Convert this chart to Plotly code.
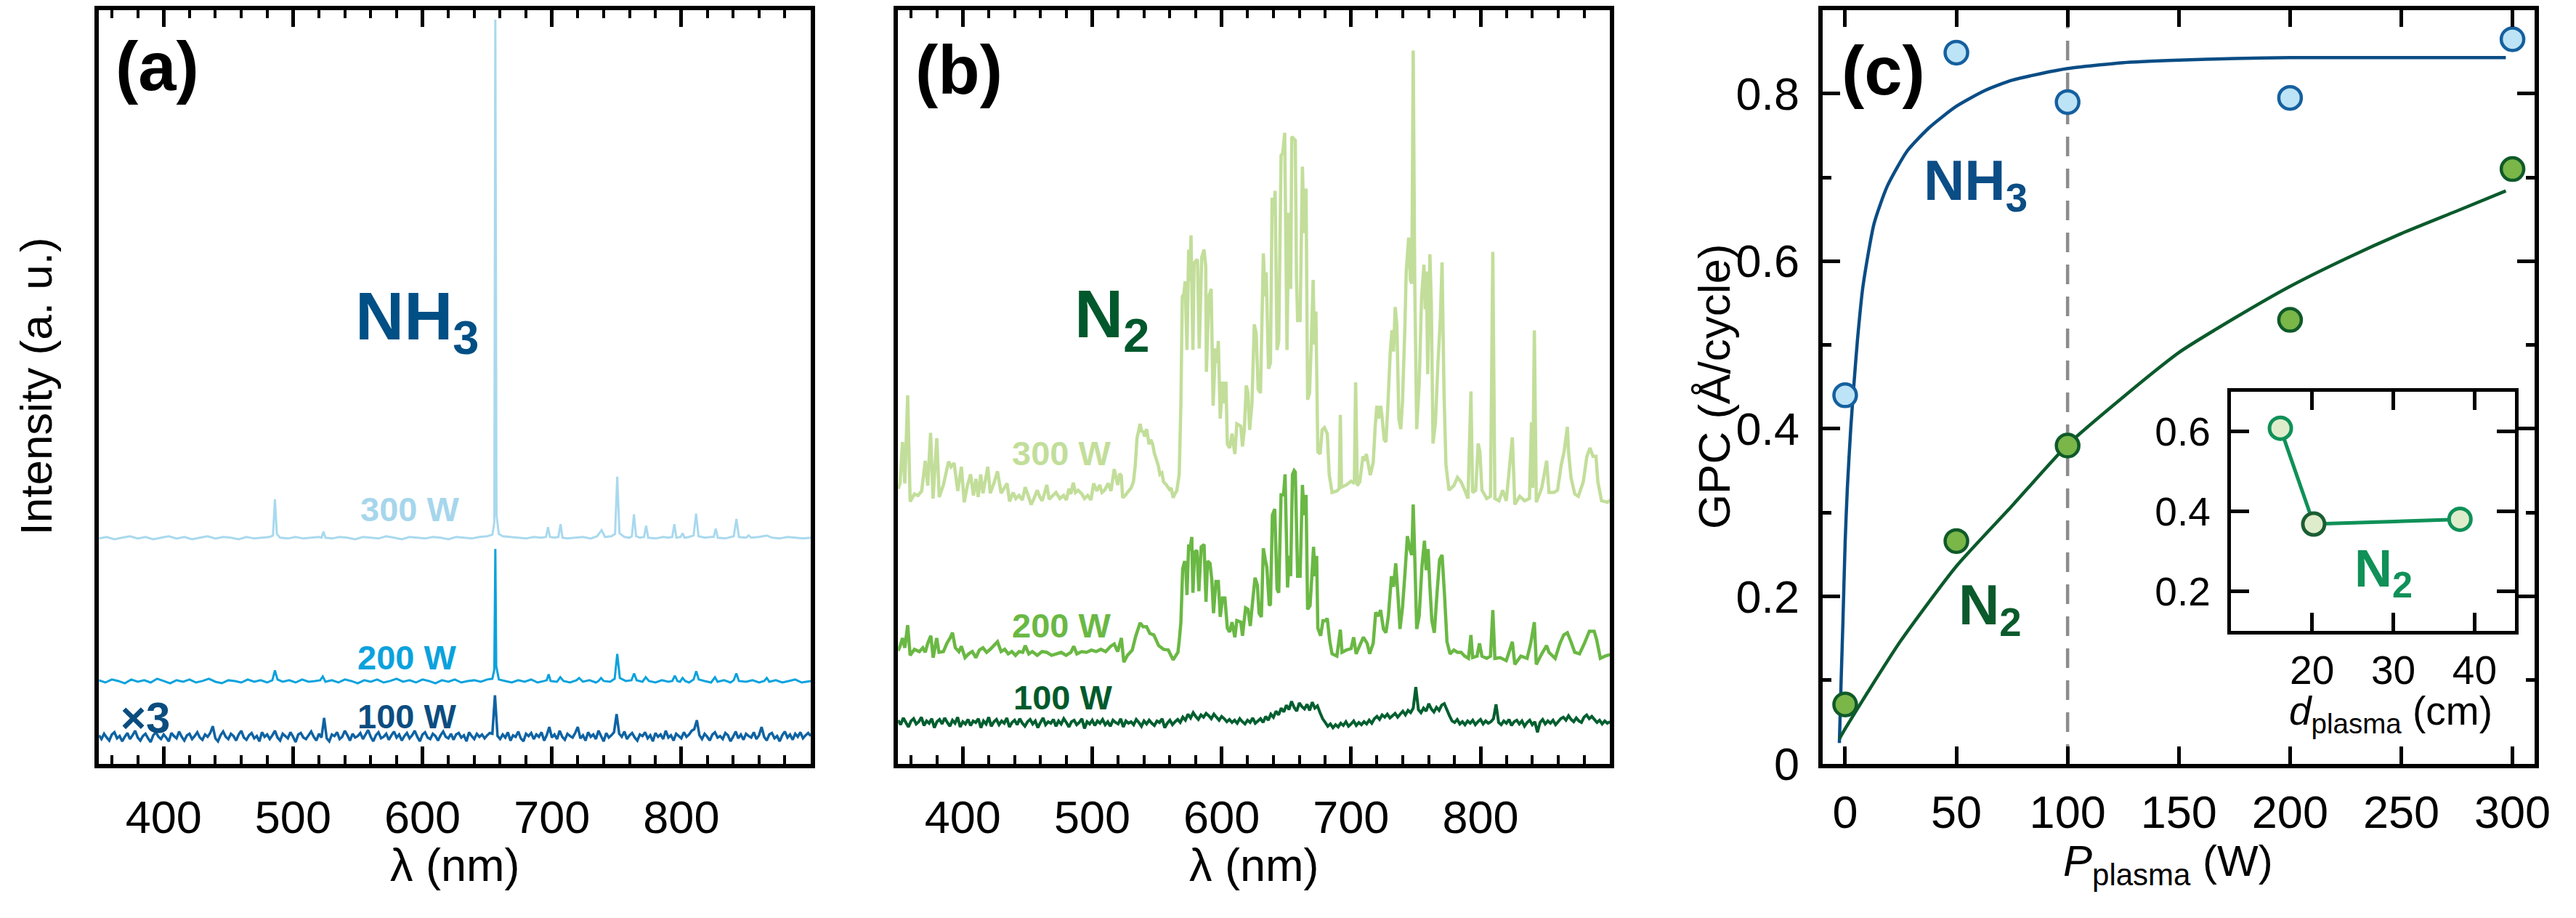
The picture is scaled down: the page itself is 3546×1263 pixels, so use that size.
import plotly.graph_objects as go

W, H = 3546, 1263
FONT = "Liberation Sans, Arial, Helvetica, sans-serif"

# ---------------------------------------------------------------------------
# (a) NH3 plasma optical emission, stacked traces (a.u., 0-1000 frame scale)
# ---------------------------------------------------------------------------
WL_GRID = list(range(350, 901, 2))  # spectrometer sampling grid (nm)

nh3_300w = [
    (350, 299), (356, 301), (362, 298), (368, 300), (374, 302), (380, 299), (386, 301), (392, 298),
    (398, 300), (404, 302), (410, 299), (416, 301), (422, 298), (428, 300), (434, 302), (440, 299),
    (446, 301), (452, 300), (458, 298), (464, 301), (470, 299), (476, 300), (482, 301), (484.5, 303),
    (486, 351), (487.5, 305), (490, 300), (496, 299), (502, 301), (508, 299), (514, 300), (520, 301),
    (522, 300), (523.5, 308), (525, 300), (530, 299), (536, 301), (542, 300), (548, 298), (554, 301),
    (560, 300), (566, 299), (572, 302), (578, 300), (584, 298), (590, 301), (596, 300), (602, 299),
    (608, 301), (614, 300), (620, 298), (626, 301), (632, 300), (638, 299), (644, 301), (650, 302),
    (654, 304), (655.5, 320), (656.3, 987), (657.2, 330), (659, 305), (662, 302), (668, 301), (674, 300),
    (680, 299), (686, 301), (692, 300), (695.5, 301), (697, 314), (698.5, 301), (702, 300), (705, 301),
    (706.7, 318), (708.2, 300), (712, 299), (718, 300), (724, 301), (730, 299), (735, 302), (738.4, 310),
    (741, 301), (746, 302), (748.8, 305), (750.5, 381), (752.2, 306), (756, 301), (760, 300), (761.8, 302),
    (763.4, 331), (765, 302), (768, 300), (771.2, 301), (772.8, 316), (774.4, 300), (780, 299), (786, 301),
    (790, 300), (793, 301), (794.6, 318), (796.2, 300), (799.5, 301), (801, 306), (802.5, 300), (806, 301),
    (809.5, 303), (811.4, 332), (813.3, 302), (818, 300), (823, 301), (825, 301), (826.6, 312), (828.2, 300),
    (834, 299), (840.5, 302), (842.6, 325), (844.5, 301), (850, 300), (852, 303), (854, 300), (860, 301),
    (866, 303), (870, 300), (876, 299), (882, 301), (888, 300), (894, 299), (900, 300),
]

nh3_200w = [
    (350, 111), (355, 108), (360, 112), (365, 110), (370, 107), (375, 112), (380, 109), (385, 111),
    (390, 108), (395, 113), (400, 110), (405, 107), (410, 111), (415, 109), (420, 112), (425, 108),
    (430, 110), (435, 113), (440, 109), (445, 107), (450, 111), (455, 110), (460, 108), (465, 112),
    (470, 109), (475, 111), (480, 108), (484, 111), (486, 124), (488, 112), (492, 109), (497, 111),
    (502, 108), (507, 112), (512, 109), (517, 110), (521, 111), (523, 116), (525, 109), (530, 111),
    (535, 108), (540, 112), (545, 110), (550, 107), (555, 111), (560, 109), (565, 112), (570, 108),
    (575, 110), (580, 113), (585, 109), (590, 111), (595, 108), (600, 112), (605, 110), (610, 107),
    (615, 111), (620, 109), (625, 112), (630, 108), (635, 110), (640, 111), (645, 109), (650, 112),
    (654, 113), (655.5, 125), (656.3, 285), (657, 130), (659, 112), (664, 110), (669, 108), (674, 111),
    (679, 109), (684, 112), (689, 108), (694, 110), (696, 111), (697.5, 119), (699, 110), (704, 109),
    (706.5, 115), (709, 110), (714, 108), (719, 111), (721, 114), (724, 109), (729, 111), (734, 108),
    (736, 110), (738, 114), (740, 110), (745, 109), (748.5, 113), (750.5, 146), (752.5, 114), (757, 110),
    (761.5, 111), (763.5, 120), (765.5, 111), (770, 109), (772.5, 115), (775, 110), (780, 108), (785, 111),
    (790, 109), (793, 110), (795, 117), (797, 110), (799, 109), (801, 114), (803, 110), (806, 108),
    (809.5, 112), (811.5, 123), (813.5, 112), (818, 110), (823, 108), (826, 115), (828, 109), (833, 111),
    (838, 108), (840.5, 111), (842.5, 120), (844.5, 110), (850, 109), (855, 111), (860, 108), (864, 110),
    (866, 114), (868, 109), (873, 111), (878, 108), (883, 110), (888, 112), (893, 108), (900, 110),
]

# 100 W trace, multiplied by 3, sampled on WL_GRID
nh3_100w_x3 = [
    38, 33, 40, 35, 31, 39, 42, 34, 37, 30,
    36, 41, 33, 38, 44, 35, 31, 37, 40, 34,
    29, 38, 42, 36, 33, 39, 35, 30, 41, 37,
    34, 43, 36, 31, 38, 40, 33, 37, 42, 35,
    32, 39, 36, 41, 50, 34, 30, 38, 43, 36,
    33, 40, 37, 31, 39, 44, 35, 32, 38, 41,
    34, 37, 30, 42, 36, 39, 33, 38, 44, 35,
    31, 40, 37, 34, 42, 36, 29, 39, 41, 35,
    33, 38, 43, 36, 31, 40, 35, 61, 34, 30,
    39, 37, 42, 33, 36, 44, 38, 31, 40, 35,
    37, 41, 33, 39, 45, 36, 30, 38, 42, 34,
    36, 40, 32, 38, 43, 35, 39, 31, 37, 41,
    34, 38, 44, 36, 30, 39, 42, 35, 33, 40,
    37, 31, 38, 43, 36, 34, 40, 32, 39, 41,
    35, 38, 30, 42, 37, 33, 40, 36, 39, 34,
    38, 41, 40, 91, 37, 33, 39, 35, 42, 31,
    38, 36, 43, 34, 30, 40, 37, 41, 33, 39,
    36, 42, 31, 38, 49, 35, 39, 33, 44, 36,
    32, 40, 37, 35, 41, 49, 34, 38, 31, 42,
    36, 39, 33, 44, 37, 30, 41, 35, 38, 42,
    66, 40, 36, 43, 33, 38, 41, 35, 31, 39,
    37, 42, 34, 38, 30, 41, 36, 39, 33, 44,
    35, 38, 31, 40, 37, 34, 42, 36, 39, 44,
    46, 58, 38, 33, 40, 36, 31, 39, 42, 35,
    37, 33, 41, 38, 30, 36, 43, 34, 39, 32,
    40, 37, 35, 42, 33, 38, 49, 36, 31, 39,
    41, 34, 37, 30, 38, 43, 35, 39, 32, 40,
    36, 42, 34, 38, 41, 37,
]

# ---------------------------------------------------------------------------
# (b) N2 plasma optical emission
# ---------------------------------------------------------------------------
n2_300w = [
    (350, 365), (351.5, 372), (353.4, 427), (355.2, 372), (357.4, 489), (359.3, 348), (362.6, 358),
    (365.4, 356), (368.2, 362), (371.0, 402), (372.9, 369), (375.1, 439), (377.0, 352), (379.9, 432),
    (381.8, 354), (385.0, 370), (389.0, 401), (390.9, 394), (393.3, 399), (396.1, 362), (398.9, 394),
    (401.1, 347), (403.5, 369), (406.0, 384), (408.2, 356), (410.1, 378), (411.9, 354), (413.8, 384),
    (415.6, 359), (419.3, 394), (421.2, 359), (424.0, 372), (426.8, 388), (429.6, 359), (432.0, 366),
    (434.2, 372), (436.1, 348), (438.9, 360), (441.0, 352), (443.5, 356), (446.0, 350), (448.2, 367),
    (450.5, 356), (452.8, 344), (455.0, 352), (457.5, 363), (459.5, 354), (461.2, 349), (463.0, 358),
    (464.9, 370), (466.7, 351), (469.0, 355), (472.0, 360), (475.0, 352), (477.9, 356), (480.0, 350),
    (482.0, 365), (483.5, 358), (485.3, 373), (487.0, 360), (489.1, 363), (492.0, 358), (494.0, 352),
    (496.5, 356), (499.0, 350), (501.1, 372), (503.5, 362), (505.8, 370), (507.5, 360), (509.5, 363),
    (512.3, 372), (514.5, 362), (517.0, 391), (519.7, 370), (521.2, 385), (522.5, 382), (523.5, 353),
    (525.5, 356), (528.1, 362), (530.0, 366), (531.8, 374), (533.2, 395), (534.6, 432), (537.0, 451),
    (538.2, 440), (539.3, 442), (540.5, 434), (542.0, 444), (543.9, 424), (545.2, 430), (546.7, 424),
    (548.0, 412), (549.5, 404), (551.0, 396), (552.3, 384), (553.8, 386), (555.1, 374), (557.3, 370),
    (559.7, 364), (561.0, 366), (562.5, 353), (564.4, 360), (565.3, 362), (567.2, 384), (568.5, 478),
    (569.6, 620), (570.8, 623), (571.8, 640), (573.2, 549), (574.5, 682), (575.4, 640), (576.3, 701),
    (577.8, 549), (578.7, 664), (580.0, 667), (581.3, 669), (582.7, 551), (584.6, 672), (586.4, 682),
    (587.7, 660), (588.2, 520), (590.1, 620), (591.9, 630), (593.4, 475), (595.2, 551), (596.5, 532),
    (597.4, 561), (598.9, 458), (600.7, 507), (602.0, 478), (603.3, 507), (604.4, 424), (606.2, 419),
    (608.0, 438), (610.2, 411), (611.7, 451), (614.8, 448), (616.1, 421), (617.5, 443), (619.0, 502),
    (620.3, 492), (621.6, 443), (623.4, 478), (625.2, 583), (626.7, 571), (628.2, 497), (630.0, 492),
    (632.2, 677), (633.7, 620), (634.4, 652), (636.2, 524), (637.7, 532), (639.0, 751), (640.4, 728),
    (641.3, 760), (642.8, 549), (644.1, 561), (645.9, 807), (647.2, 810), (648.7, 837), (650.5, 549),
    (651.8, 731), (653.3, 630), (654.2, 832), (655.6, 829), (656.9, 827), (657.8, 645), (658.7, 588),
    (660.6, 588), (662.4, 792), (663.7, 704), (665.2, 763), (666.4, 483), (667.9, 492), (669.2, 556),
    (670.7, 642), (671.6, 556), (672.8, 600), (674.3, 414), (676.1, 411), (677.6, 443), (679.4, 446),
    (681.6, 438), (683.1, 384), (685.3, 360), (689.0, 362), (690.8, 365), (691.7, 463), (692.6, 367),
    (696.3, 370), (700.0, 375), (702.5, 372), (703.5, 506), (704.8, 369), (706.7, 374), (709.2, 408),
    (710.5, 402), (711.8, 411), (713.3, 397), (714.8, 383), (717.1, 400), (718.6, 447), (719.9, 475),
    (721.2, 458), (722.8, 475), (723.7, 464), (725.6, 430), (726.9, 427), (728.4, 475), (730.3, 547),
    (731.6, 575), (732.8, 547), (734.1, 606), (735.4, 581), (736.9, 458), (738.4, 444), (739.7, 480),
    (741.6, 581), (742.6, 653), (744.5, 698), (745.8, 642), (746.9, 637), (748.0, 946), (749.2, 637),
    (750.7, 444), (752.6, 503), (754.5, 620), (756.3, 662), (757.3, 603), (758.2, 653), (759.2, 517),
    (760.9, 676), (762.0, 609), (763.3, 425), (765.2, 453), (767.1, 531), (769.0, 592), (770.3, 665),
    (771.8, 492), (773.3, 397), (775.6, 363), (779.4, 369), (782.2, 380), (785.0, 374), (787.8, 363),
    (790.3, 352), (792.6, 494), (793.9, 360), (796.3, 363), (798.2, 425), (799.5, 414), (801.1, 363),
    (804.8, 352), (807.7, 355), (809.5, 679), (811.1, 352), (814.3, 349), (817.1, 363), (819.9, 349),
    (824.6, 433), (826.5, 344), (830.3, 355), (834.1, 349), (837.8, 352), (839.4, 453), (840.3, 366),
    (841.6, 575), (843.1, 347), (847.3, 366), (851.1, 402), (852.9, 360), (856.7, 360), (859.5, 363),
    (862.4, 397), (864.6, 414), (867.1, 447), (868.0, 414), (869.9, 380), (872.8, 358), (875.6, 355),
    (879.4, 374), (882.2, 408), (884.6, 419), (886.9, 408), (889.2, 408), (890.7, 374), (893.5, 349),
    (898.2, 347), (900, 350),
]

n2_200w = [
    (350, 150), (351.5, 156), (353.4, 167), (355.2, 154), (357.4, 184), (359.3, 144), (362.6, 152),
    (366.4, 149), (369.1, 154), (371.0, 148), (372.9, 160), (375.3, 170), (377.1, 141), (379.8, 167),
    (381.6, 148), (385.0, 149), (387.7, 160), (390.2, 167), (392.0, 174), (394.2, 154), (397.0, 149),
    (398.9, 156), (401.7, 141), (404.5, 146), (407.3, 149), (410.1, 141), (412.8, 151), (415.6, 154),
    (418.4, 148), (421.2, 152), (424.0, 157), (426.8, 162), (429.6, 149), (432.4, 152), (435.1, 146),
    (437.9, 149), (440.7, 144), (443.5, 149), (446.3, 148), (448.2, 157), (451.0, 146), (453.7, 149),
    (457.5, 144), (461.2, 149), (464.9, 148), (468.6, 144), (472.3, 146), (476.0, 148), (479.8, 144),
    (483.5, 148), (485.7, 156), (488.1, 146), (491.8, 149), (495.6, 148), (499.3, 151), (503.0, 149),
    (506.7, 152), (510.4, 149), (514.2, 156), (517.0, 159), (519.7, 149), (522.5, 167), (524.4, 135),
    (527.2, 144), (530.9, 151), (533.7, 170), (537.0, 187), (539.3, 182), (542.0, 182), (544.5, 173),
    (547.6, 171), (551.3, 157), (555.1, 152), (558.8, 151), (562.5, 138), (566.2, 148), (567.2, 163),
    (568.5, 188), (569.9, 259), (571.4, 269), (572.3, 261), (573.2, 224), (574.5, 291), (575.4, 283),
    (576.9, 301), (577.8, 227), (579.1, 281), (580.9, 283), (582.4, 229), (584.2, 288), (586.4, 291),
    (587.9, 215), (589.1, 269), (591.0, 266), (592.4, 244), (593.7, 200), (595.6, 242), (597.4, 242),
    (598.9, 195), (600.7, 220), (602.5, 220), (604.4, 180), (606.2, 175), (608.0, 188), (610.2, 168),
    (611.7, 190), (614.8, 188), (616.1, 170), (618.5, 207), (620.3, 205), (622.1, 183), (624.0, 217),
    (625.8, 247), (627.6, 237), (628.9, 200), (630.7, 195), (632.2, 286), (633.7, 271), (634.9, 261),
    (636.8, 210), (637.7, 212), (639.2, 330), (641.0, 338), (642.8, 232), (644.1, 227), (645.9, 357),
    (647.8, 357), (649.0, 384), (650.9, 234), (652.3, 276), (653.3, 249), (654.7, 384), (656.0, 389),
    (656.9, 387), (658.7, 249), (660.6, 249), (662.4, 370), (663.7, 330), (665.2, 357), (666.4, 205),
    (668.3, 210), (669.7, 249), (671.0, 288), (672.1, 249), (673.4, 276), (674.3, 180), (676.5, 170),
    (678.3, 190), (680.2, 190), (681.6, 193), (683.5, 163), (685.3, 146), (689.0, 143), (691.7, 178),
    (693.0, 148), (696.3, 151), (700.0, 153), (702.0, 168), (703.9, 146), (706.7, 157), (709.5, 168),
    (712.4, 160), (714.3, 146), (717.1, 160), (719.0, 201), (720.9, 196), (722.8, 204), (725.0, 179),
    (726.9, 174), (728.8, 196), (731.2, 249), (732.8, 235), (734.5, 266), (736.0, 229), (737.8, 179),
    (739.7, 207), (741.6, 252), (743.5, 302), (745.4, 285), (746.9, 277), (748.0, 344), (749.2, 274),
    (750.7, 179), (752.6, 196), (754.8, 263), (756.7, 296), (758.0, 257), (759.5, 285), (760.9, 235),
    (762.4, 190), (764.3, 174), (766.5, 229), (768.4, 271), (770.3, 277), (772.2, 224), (774.1, 162),
    (776.5, 146), (779.4, 151), (782.2, 148), (785.0, 148), (787.8, 143), (790.7, 140), (792.6, 171),
    (793.9, 141), (797.3, 143), (799.2, 160), (801.1, 143), (804.8, 140), (807.7, 143), (809.5, 204),
    (811.1, 140), (815.2, 141), (819.9, 137), (824.6, 162), (826.5, 132), (831.2, 143), (836.0, 140),
    (838.8, 160), (841.6, 188), (843.1, 132), (847.3, 146), (851.1, 157), (852.9, 148), (857.7, 140),
    (861.4, 160), (864.3, 171), (867.1, 174), (869.9, 162), (872.8, 148), (876.5, 146), (880.3, 160),
    (884.1, 176), (887.8, 176), (889.7, 165), (892.6, 140), (896.3, 143), (900, 145),
]

# 100 W trace sampled on WL_GRID
n2_100w = [
    58, 52, 61, 55, 49, 57, 60, 53, 56, 62,
    51, 57, 54, 60, 48, 56, 59, 53, 61, 55,
    50, 58, 54, 62, 49, 56, 53, 59, 51, 57,
    55, 60, 48, 57, 53, 62, 50, 56, 59, 52,
    57, 54, 61, 49, 55, 58, 52, 60, 54, 50,
    56, 59, 53, 57, 48, 55, 61, 52, 56, 54,
    59, 50, 57, 53, 60, 55, 49, 56, 58, 52,
    55, 60, 47, 56, 53, 58, 51, 57, 54, 59,
    52, 56, 50, 58, 55, 53, 60, 49, 57, 54,
    56, 52, 59, 55, 50, 57, 53, 58, 54, 51,
    57, 55, 60, 48, 54, 58, 52, 56, 59, 55,
    62, 58, 66, 61, 68, 63, 59, 65, 62, 67,
    64, 60, 66, 62, 58, 63, 60, 56, 59, 55,
    58, 54, 60, 56, 53, 58, 55, 61, 54, 57,
    60, 55, 63, 58, 66, 62, 70, 65, 74, 69,
    78, 72, 83, 75, 70, 81, 76, 73, 79, 71,
    82, 74, 77, 68, 60, 55, 50, 53, 48, 52,
    49, 54, 51, 56, 50, 53, 57, 51, 55, 52,
    56, 53, 58, 54, 60, 63, 59, 65, 62, 66,
    61, 64, 67, 62, 66, 70, 65, 71, 68, 74,
    102, 72, 68, 74, 70, 80, 73, 69, 75, 71,
    78, 80, 72, 64, 57, 55, 59, 53, 56, 52,
    57, 54, 58, 52, 56, 59, 53, 57, 54, 56,
    60, 79, 55, 52, 57, 54, 59, 51, 56, 58,
    53, 57, 50, 55, 58, 52, 56, 42, 55, 59,
    53, 57, 54, 58, 52, 56, 60, 62, 58, 64,
    59, 56, 61, 57, 55, 62, 65, 60, 63, 59,
    55, 58, 53, 57, 54, 56,
]

# ---------------------------------------------------------------------------
# (c) growth per cycle vs plasma power, with fitted saturation curves
# ---------------------------------------------------------------------------
power_w = [0, 50, 100, 200, 300]
gpc_nh3 = [0.44, 0.849, 0.79, 0.795, 0.865]
gpc_n2 = [0.071, 0.266, 0.38, 0.53, 0.71]

fit_nh3_p = [-2.6, -1.8, -1, 0, 1, 2.5, 4, 5.5, 8, 13, 19, 28, 38, 50, 63, 75, 88, 100, 125, 150,
             175, 200, 250, 297]
fit_nh3_gpc = [0.025, 0.10, 0.17, 0.265, 0.33, 0.40, 0.455, 0.505, 0.57, 0.645, 0.69, 0.732, 0.76,
               0.785, 0.804, 0.816, 0.824, 0.83, 0.837, 0.840, 0.842, 0.843, 0.843, 0.843]

fit_n2_p = [-2.6, 0, 10, 25, 50, 75, 100, 125, 150, 175, 200, 225, 250, 275, 297]
fit_n2_gpc = [0.03, 0.042, 0.085, 0.147, 0.236, 0.308, 0.381, 0.438, 0.491, 0.532, 0.570, 0.603,
              0.633, 0.660, 0.684]

ref_power_w = 100  # operating point marked by the dashed line

# inset: GPC vs plasma source distance (N2)
d_plasma_cm = [16.1, 20.2, 38.2]
gpc_n2_dist = [0.608, 0.368, 0.38]

# ---------------------------------------------------------------------------
C_NH3_300, C_NH3_200, C_NH3_100, C_NH3 = "#a9d9ee", "#0aa2dd", "#0e63a3", "#004f85"
C_N2_300, C_N2_200, C_N2_100, C_N2 = "#c2de9a", "#6ab844", "#005f2f", "#00582c"


def unzip(pairs):
    return [p[0] for p in pairs], [p[1] for p in pairs]


fig = go.Figure()


def spectrum(x, y, color, width, xa, ya):
    fig.add_trace(go.Scatter(x=x, y=y, mode="lines", xaxis=xa, yaxis=ya,
                             line=dict(color=color, width=width, simplify=False),
                             hoverinfo="skip", showlegend=False))


x, y = unzip(nh3_300w); spectrum(x, y, C_NH3_300, 3, "x", "y")
x, y = unzip(nh3_200w); spectrum(x, y, C_NH3_200, 3, "x", "y")
spectrum(WL_GRID, nh3_100w_x3, C_NH3_100, 3.5, "x", "y")

x, y = unzip(n2_300w); spectrum(x, y, C_N2_300, 4.5, "x2", "y2")
x, y = unzip(n2_200w); spectrum(x, y, C_N2_200, 4.5, "x2", "y2")
spectrum(WL_GRID, n2_100w, C_N2_100, 4, "x2", "y2")

# (c)
fig.add_trace(go.Scatter(x=[ref_power_w, ref_power_w], y=[0, 0.9], mode="lines", xaxis="x3", yaxis="y3",
                         line=dict(color="#8c8c8c", width=4.5, dash="27px,17px"), showlegend=False))
fig.add_trace(go.Scatter(x=fit_nh3_p, y=fit_nh3_gpc, mode="lines", xaxis="x3", yaxis="y3",
                         line=dict(color="#0b4d85", width=4.5, shape="spline", smoothing=0.6),
                         showlegend=False))
fig.add_trace(go.Scatter(x=fit_n2_p, y=fit_n2_gpc, mode="lines", xaxis="x3", yaxis="y3",
                         line=dict(color="#0b5a2c", width=4.5, shape="spline", smoothing=0.6),
                         showlegend=False))
fig.add_trace(go.Scatter(x=power_w, y=gpc_nh3, mode="markers", xaxis="x3", yaxis="y3",
                         marker=dict(size=31, color="#bde3f6", line=dict(color="#15609f", width=4.5)),
                         showlegend=False))
fig.add_trace(go.Scatter(x=power_w, y=gpc_n2, mode="markers", xaxis="x3", yaxis="y3",
                         marker=dict(size=31, color="#7ab648", line=dict(color="#0f5a2a", width=4.5)),
                         showlegend=False))

# inset
fig.add_trace(go.Scatter(x=d_plasma_cm, y=gpc_n2_dist, mode="lines+markers", xaxis="x4", yaxis="y4",
                         line=dict(color="#0f9158", width=5),
                         marker=dict(size=30, color="#dfeccb",
                                     line=dict(color=["#0f9158", "#1b5e33", "#0f9158"], width=5)),
                         showlegend=False))

TICKFONT = dict(family=FONT, size=63, color="black")


def frame(**kw):
    ax = dict(showline=True, linewidth=5.5, linecolor="black", mirror="ticks", showgrid=False,
              zeroline=False, ticks="inside", ticklen=24, tickwidth=4.5, tickcolor="black",
              tickfont=TICKFONT)
    ax.update(kw)
    return ax


def dom_x(a, b):
    return [a / W, b / W]


def dom_y(top, bottom):
    return [1 - bottom / H, 1 - top / H]


minor_wl = dict(ticks="inside", ticklen=12, tickwidth=4, tickcolor="black", tickmode="linear",
                tick0=0, dtick=20, showgrid=False)
wl_ticks = [400, 500, 600, 700, 800]
PANEL_TOP, PANEL_BOTTOM = 14, 1081

fig.update_layout(
    width=W, height=H, margin=dict(l=0, r=0, t=0, b=0),
    paper_bgcolor="white", plot_bgcolor="white", showlegend=False,
    font=dict(family=FONT, color="black"),
    xaxis=frame(domain=dom_x(137, 1123), range=[350, 900], tickmode="array", tickvals=wl_ticks,
                minor=minor_wl, anchor="y", ticklabelstandoff=14),
    yaxis=frame(domain=dom_y(PANEL_TOP, PANEL_BOTTOM), range=[0, 1000], ticks="",
                showticklabels=False, anchor="x"),
    xaxis2=frame(domain=dom_x(1244, 2230), range=[350, 900], tickmode="array", tickvals=wl_ticks,
                 minor=minor_wl, anchor="y2", ticklabelstandoff=14),
    yaxis2=frame(domain=dom_y(PANEL_TOP, PANEL_BOTTOM), range=[0, 1000], ticks="",
                 showticklabels=False, anchor="x2"),
    xaxis3=frame(domain=dom_x(2525, 3511), range=[-10, 310], tickmode="array",
                 tickvals=[0, 50, 100, 150, 200, 250, 300], anchor="y3", ticklabelstandoff=7),
    yaxis3=frame(domain=dom_y(PANEL_TOP, PANEL_BOTTOM), range=[0, 0.9], tickmode="array",
                 tickvals=[0, 0.2, 0.4, 0.6, 0.8], ticktext=["0", "0.2", "0.4", "0.6", "0.8"],
                 minor=dict(ticks="inside", ticklen=12, tickwidth=4.5, tickcolor="black",
                            tickmode="array", tickvals=[0.1, 0.3, 0.5, 0.7], showgrid=False),
                 anchor="x3", ticklabelstandoff=14),
    xaxis4=frame(domain=dom_x(3090, 3484), range=[10, 45], tickmode="array", tickvals=[20, 30, 40],
                 linewidth=5, ticklen=25, tickfont=dict(family=FONT, size=55, color="black"),
                 anchor="y4", ticklabelstandoff=2),
    yaxis4=frame(domain=dom_y(554, 893), range=[0.1, 0.7], tickmode="array", tickvals=[0.2, 0.4, 0.6],
                 ticktext=["0.2", "0.4", "0.6"], linewidth=5, ticklen=25,
                 tickfont=dict(family=FONT, size=55, color="black"), anchor="x4", ticklabelstandoff=12),
)


def label(text, x, y, xref, yref, size, color="black", angle=0, yanchor="middle"):
    fig.add_annotation(text=text, x=x, y=y, xref=xref, yref=yref, showarrow=False,
                       xanchor="center", yanchor=yanchor, textangle=angle, borderpad=0,
                       font=dict(family=FONT, size=size, color=color))


# panel (a)
label("<b>(a)</b>", 395, 925, "x", "y", 94)
label("<b>NH<sub>3</sub></b>", 596, 587, "x", "y", 93, C_NH3)
label("<b>300 W</b>", 590, 338, "x", "y", 47, "#a6d6ec")
label("<b>200 W</b>", 588, 141, "x", "y", 47, C_NH3_200)
label("<b>100 W</b>", 588, 63, "x", "y", 47, "#0b4d80")
label("<b>×3</b>", 386, 61, "x", "y", 60, "#0b4d80")

# panel (b)
label("<b>(b)</b>", 397, 920, "x2", "y2", 94)
label("<b>N<sub>2</sub></b>", 515, 590, "x2", "y2", 93, C_N2)
label("<b>300 W</b>", 476, 412, "x2", "y2", 47, C_N2_300)
label("<b>200 W</b>", 476, 184, "x2", "y2", 47, C_N2_200)
label("<b>100 W</b>", 477, 88, "x2", "y2", 47, "#005a2b")

# panel (c)
label("<b>(c)</b>", 17.3, 0.827, "x3", "y3", 94)
label("<b>NH<sub>3</sub></b>", 58.5, 0.692, "x3", "y3", 78, "#0b4d85")
label("<b>N<sub>2</sub></b>", 65.3, 0.185, "x3", "y3", 78, "#0b5a2c")
label("<b>N<sub>2</sub></b>", 28.8, 0.247, "x4", "y4", 72, "#0f9158")

# axis titles (bottom titles anchored by their lower edge)
label("λ (nm)", 630 / W, 1 - 1261 / H, "paper", "paper", 63, yanchor="bottom")
label("λ (nm)", 1737 / W, 1 - 1261 / H, "paper", "paper", 63, yanchor="bottom")
label("<i>P</i><sub>plasma</sub> (W)", 3003 / W, 1 - 1263 / H, "paper", "paper", 60, yanchor="bottom")
label("<i>d</i><sub>plasma</sub> (cm)", 3312 / W, 1 - 1047 / H, "paper", "paper", 55, yanchor="bottom")
label("Intensity (a. u.)", 50 / W, 1 - 547 / H, "paper", "paper", 62, angle=-90)
label("GPC (Å/cycle)", 2375 / W, 1 - 547 / H, "paper", "paper", 62, angle=-90)

fig.write_html("out.html")
